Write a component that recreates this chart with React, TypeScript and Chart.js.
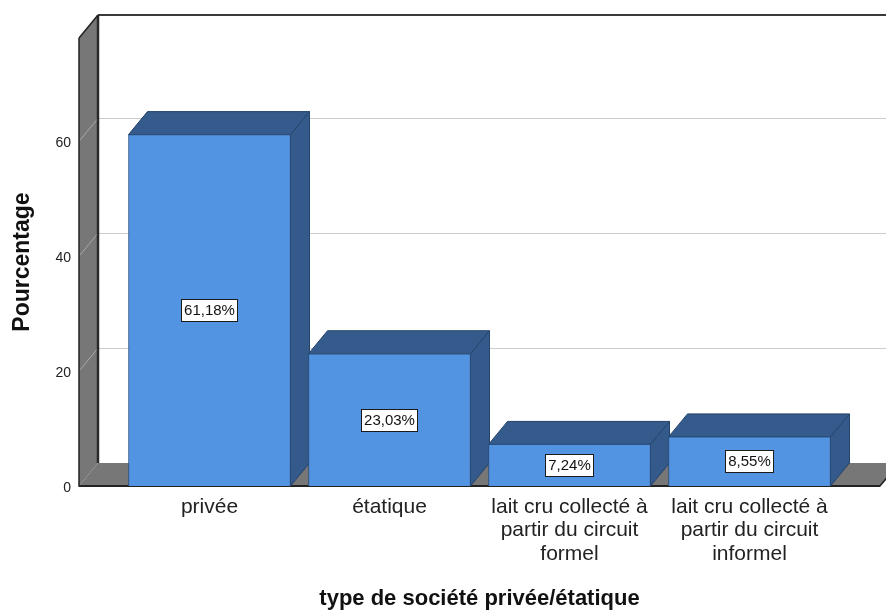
import React, { useEffect, useRef } from "react";
import { Chart, registerables } from "chart.js";

Chart.register(...registerables);

const categories: (string | string[])[] = [
  "privée",
  "étatique",
  ["lait cru collecté à", "partir du circuit", "formel"],
  ["lait cru collecté à", "partir du circuit", "informel"],
];
const percentages = [61.18, 23.03, 7.24, 8.55];
const yTicks = [0, 20, 40, 60];
const yMax = 78;
const xTitle = "type de société privée/étatique";
const yTitle = "Pourcentage";

const FONT = '"Liberation Sans", Arial, Helvetica, sans-serif';
const DX = 19;
const DY = 23;

const frame3d = {
  id: "frame3d",
  beforeDatasetsDraw(chart: any) {
    const { ctx, chartArea: a, scales } = chart;
    const y = scales.y;
    const W = chart.width;
    ctx.save();
    ctx.lineWidth = 1;
    ctx.strokeStyle = "#cccccc";
    yTicks.forEach((v) => {
      if (v === 0) return;
      const yy = Math.round(y.getPixelForValue(v) - DY) + 0.5;
      ctx.beginPath();
      ctx.moveTo(a.left + DX, yy);
      ctx.lineTo(W, yy);
      ctx.stroke();
    });
    ctx.fillStyle = "#777777";
    ctx.beginPath();
    ctx.moveTo(a.left, a.top);
    ctx.lineTo(a.left + DX, a.top - DY);
    ctx.lineTo(a.left + DX, a.bottom - DY);
    ctx.lineTo(a.left, a.bottom);
    ctx.closePath();
    ctx.fill();
    ctx.strokeStyle = "#a9a9a9";
    yTicks.forEach((v) => {
      if (v === 0) return;
      const yy = y.getPixelForValue(v);
      ctx.beginPath();
      ctx.moveTo(a.left, yy);
      ctx.lineTo(a.left + DX, yy - DY);
      ctx.stroke();
    });
    ctx.fillStyle = "#777777";
    ctx.beginPath();
    ctx.moveTo(a.left, a.bottom);
    ctx.lineTo(a.right, a.bottom);
    ctx.lineTo(a.right + DX, a.bottom - DY);
    ctx.lineTo(a.left + DX, a.bottom - DY);
    ctx.closePath();
    ctx.fill();
    ctx.strokeStyle = "#2a2a2a";
    ctx.lineWidth = 2.5;
    ctx.beginPath();
    ctx.moveTo(a.left + DX, a.top - DY);
    ctx.lineTo(a.left + DX, a.bottom - DY);
    ctx.stroke();
    ctx.lineWidth = 2;
    ctx.strokeStyle = "#3a3a3a";
    ctx.beginPath();
    ctx.moveTo(a.left + DX, a.top - DY);
    ctx.lineTo(W, a.top - DY);
    ctx.stroke();
    ctx.strokeStyle = "#222222";
    ctx.lineWidth = 1.5;
    ctx.beginPath();
    ctx.moveTo(a.left, a.top);
    ctx.lineTo(a.left + DX, a.top - DY);
    ctx.moveTo(a.left, a.top);
    ctx.lineTo(a.left, a.bottom);
    ctx.lineTo(a.right, a.bottom);
    ctx.lineTo(a.right + DX, a.bottom - DY);
    ctx.stroke();
    ctx.lineWidth = 2;
    ctx.beginPath();
    ctx.moveTo(a.left, a.bottom);
    ctx.lineTo(a.right, a.bottom);
    ctx.stroke();
    const meta = chart.getDatasetMeta(0);
    ctx.lineWidth = 1;
    ctx.strokeStyle = "#24446b";
    meta.data.forEach((el: any) => {
      const { x: cx, y: top, base, width } = el.getProps(["x", "y", "base", "width"], true);
      const l = cx - width / 2;
      const r = cx + width / 2;
      ctx.fillStyle = "#345b8c";
      ctx.beginPath();
      ctx.moveTo(l, top);
      ctx.lineTo(l + DX, top - DY);
      ctx.lineTo(r + DX, top - DY);
      ctx.lineTo(r, top);
      ctx.closePath();
      ctx.fill();
      ctx.stroke();
      ctx.fillStyle = "#335a8a";
      ctx.beginPath();
      ctx.moveTo(r, top);
      ctx.lineTo(r + DX, top - DY);
      ctx.lineTo(r + DX, base - DY);
      ctx.lineTo(r, base);
      ctx.closePath();
      ctx.fill();
      ctx.stroke();
    });
    ctx.restore();
  },
  afterDatasetsDraw(chart: any) {
    const { ctx } = chart;
    const meta = chart.getDatasetMeta(0);
    ctx.save();
    ctx.font = `15px ${FONT}`;
    ctx.textAlign = "center";
    ctx.textBaseline = "middle";
    meta.data.forEach((el: any, i: number) => {
      const { x: cx, y: top, base } = el.getProps(["x", "y", "base"], true);
      const txt = percentages[i].toFixed(2).replace(".", ",") + "%";
      const tw = ctx.measureText(txt).width;
      const bw = Math.round(tw + 6);
      const bh = 23;
      const cy = Math.round((top + base) / 2);
      const bx = Math.round(cx - bw / 2);
      const by = Math.round(cy - bh / 2);
      ctx.fillStyle = "#ffffff";
      ctx.fillRect(bx, by, bw, bh);
      ctx.strokeStyle = "#1a1a1a";
      ctx.lineWidth = 1;
      ctx.strokeRect(bx + 0.5, by + 0.5, bw - 1, bh - 1);
      ctx.fillStyle = "#111111";
      ctx.fillText(txt, cx, cy + 1);
    });
    ctx.restore();
  },
};

export default function App() {
  const ref = useRef<HTMLCanvasElement | null>(null);
  useEffect(() => {
    if (!ref.current) return;
    const chart = new Chart(ref.current, {
      type: "bar",
      data: {
        datasets: [
          {
            data: percentages.map((v, i) => ({ x: i, y: v })),
            backgroundColor: "#5294e2",
            borderColor: "#2c4f7c",
            borderWidth: 1,
            barThickness: 162,
          } as any,
        ],
      },
      options: {
        animation: false,
        responsive: false,
        layout: { padding: { top: 38, right: 6, left: 0, bottom: 0 } },
        plugins: { legend: { display: false }, tooltip: { enabled: false } },
        scales: {
          x: {
            type: "linear",
            min: -0.725,
            max: categories.length - 1 + 0.725,
            offset: false,
            grid: { display: false, drawTicks: false },
            border: { display: false },
            afterBuildTicks: (s: any) => {
              s.ticks = categories.map((_, i) => ({ value: i }));
            },
            afterFit: (s: any) => {
              s.height = 124;
            },
            ticks: {
              autoSkip: false,
              maxRotation: 0,
              padding: 10,
              color: "#222222",
              font: { family: FONT, size: 21, lineHeight: 1.1 },
              callback: (v: any) => categories[v as number],
            },
            title: {
              display: true,
              text: xTitle,
              color: "#111111",
              font: { family: FONT, size: 22, weight: "bold", lineHeight: 1 },
              padding: { top: 0, bottom: 0 },
            },
          },
          y: {
            type: "linear",
            min: 0,
            max: yMax,
            grid: { display: false, drawTicks: false },
            border: { display: false },
            afterBuildTicks: (s: any) => {
              s.ticks = yTicks.map((v) => ({ value: v }));
            },
            afterFit: (s: any) => {
              s.width = 79;
            },
            ticks: {
              padding: 8,
              labelOffset: 2,
              color: "#222222",
              font: { family: FONT, size: 14 },
            },
            title: {
              display: true,
              text: yTitle,
              color: "#111111",
              font: { family: FONT, size: 23, weight: "bold", lineHeight: 1 },
              padding: { top: 11, bottom: 0 },
            },
          },
        },
      },
      plugins: [frame3d],
    });
    return () => chart.destroy();
  }, []);
  return (
    <div style={{ position: "absolute", left: 0, top: 0, width: 886, height: 610, background: "#ffffff" }}>
      <canvas ref={ref} width={886} height={610} />
    </div>
  );
}
